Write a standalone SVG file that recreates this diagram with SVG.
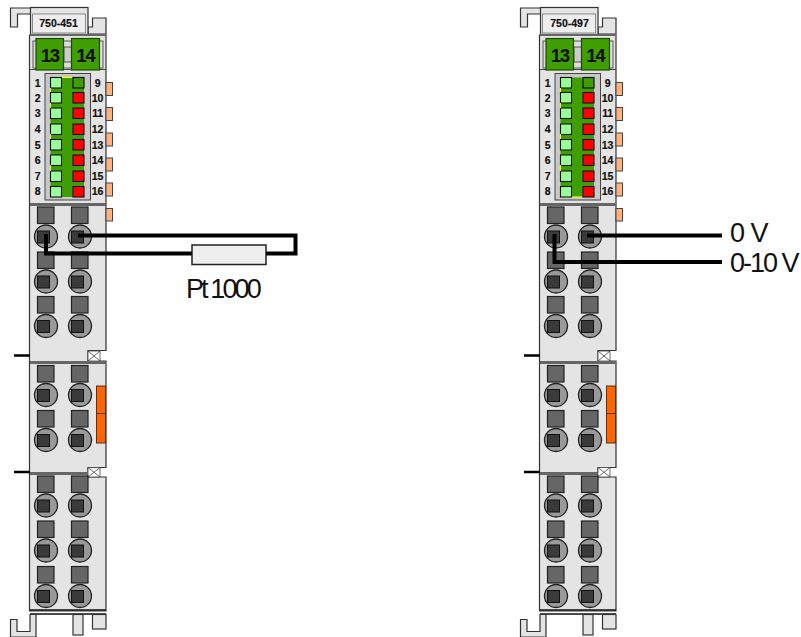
<svg xmlns="http://www.w3.org/2000/svg" width="801" height="637" viewBox="0 0 801 637">
<style>
.b{fill:#e4e4e4;stroke:#333;stroke-width:1.200}
.tab{fill:#ffb27f;stroke:#444;stroke-width:1}
.sq{fill:#666;stroke:#222;stroke-width:1.200}
.ci{fill:#999;stroke:#222;stroke-width:1.300}
.in{fill:#3a3a3a;stroke:#111;stroke-width:1}
.gr{fill:#3f9f00;stroke:#1d4a00;stroke-width:1.200}
.lg{fill:#9f9;stroke:#111;stroke-width:1.100}
.rd{fill:#f00;stroke:#111;stroke-width:1.100}
.y{stroke:#ff0;stroke-width:1;fill:none}
.t{font-family:"Liberation Sans",Arial,sans-serif;font-weight:bold;fill:#111;stroke:#111;stroke-width:.2;text-anchor:middle}
.n{font-size:10.500px;letter-spacing:-.2px}
.k{font-size:18px;letter-spacing:-1px}
.m{font-size:10.500px}
.w{fill:none;stroke:#000;stroke-width:4;stroke-linejoin:miter}
.l{font-family:"Liberation Sans",Arial,sans-serif;font-size:27px;fill:#111}
</style>
<defs>
<g id="term"><rect class="sq" x="37.500" y="0" width="16.500" height="16.500"/><rect class="sq" x="71.500" y="0" width="16.500" height="16.500"/><circle class="ci" cx="46" cy="29.500" r="11.500"/><circle class="ci" cx="80" cy="29.500" r="11.500"/><rect class="in" x="37.500" y="24" width="12" height="12"/><rect class="in" x="71.500" y="24" width="12" height="12"/></g>
<g id="body">
<path class="b" d="M10.500 8H31V14H17.500V27H10.500Z"/>
<path class="b" d="M88 34V27H92.500V18H106V34Z"/>
<rect class="b" x="30.500" y="7.500" width="57.500" height="27"/>
<rect x="32.500" y="14" width="53" height="19" fill="#eee" stroke="#888" stroke-width="1"/>
<path class="b" d="M29.500 35H106V350.500H88V361H106V467.500H88V477H106V611H29.500Z"/>
<rect x="30" y="34" width="76" height="2" fill="#666"/>
<rect x="33" y="41" width="70" height="27" fill="#ddd" stroke="#555"/>
<rect x="64" y="47" width="8" height="15" fill="#ccc" stroke="#555"/>
<path d="M30 69.500H106" stroke="#444" fill="none"/>
<rect class="gr" x="36" y="38.500" width="27.500" height="31.500"/>
<rect class="gr" x="71.500" y="38.500" width="28" height="31.500"/>
<rect x="45" y="73.500" width="45.500" height="126.500" fill="#c8c8c8" stroke="#444"/>
<rect x="50.500" y="77.500" width="33.500" height="119.500" fill="#3f9f00"/>
<g>
<rect class="lg" x="50.500" y="77.500" width="11" height="10.500"/><rect class="lg" x="50.500" y="92.500" width="11" height="10.500"/><rect class="lg" x="50.500" y="108" width="11" height="10.500"/><rect class="lg" x="50.500" y="124" width="11" height="10.500"/><rect class="lg" x="50.500" y="139.500" width="11" height="10.500"/><rect class="lg" x="50.500" y="155" width="11" height="10.500"/><rect class="lg" x="50.500" y="171" width="11" height="10.500"/><rect class="lg" x="50.500" y="186.500" width="11" height="10.500"/>
<rect class="gr" x="73" y="77.500" width="11" height="10.500" style="stroke:#111"/><rect class="rd" x="73" y="92.500" width="11" height="10.500"/><rect class="rd" x="73" y="108" width="11" height="10.500"/><rect class="rd" x="73" y="124" width="11" height="10.500"/><rect class="rd" x="73" y="139.500" width="11" height="10.500"/><rect class="rd" x="73" y="155" width="11" height="10.500"/><rect class="rd" x="73" y="171" width="11" height="10.500"/><rect class="rd" x="73" y="186.500" width="11" height="10.500"/>
</g>
<path class="y" d="M50.500 88V92M50.500 103V108M50.500 134V139M50.500 165V171"/>
<rect class="tab" x="106" y="82.500" width="6.500" height="13"/><rect class="tab" x="106" y="107.500" width="6.500" height="13"/><rect class="tab" x="106" y="133" width="6.500" height="13"/><rect class="tab" x="106" y="158" width="6.500" height="13"/><rect class="tab" x="106" y="183" width="6.500" height="13"/><rect class="tab" x="106" y="208.500" width="6.500" height="12.500"/>
<rect x="30" y="203" width="76" height="3" fill="#666"/>
<use href="#term" y="207"/><use href="#term" y="252"/><use href="#term" y="296.500"/>
<path d="M14 355.500H30M14 472H30" stroke="#000" stroke-width="2.500" fill="none"/>
<path d="M88 351H100V361H88ZM88 351L100 361M100 351L88 361" fill="#fff" stroke="#444" stroke-width=".8"/>
<rect x="30" y="361" width="76" height="3" fill="#666"/>
<use href="#term" y="365.500"/><use href="#term" y="410.500"/>
<rect x="96.500" y="386" width="9" height="27.500" fill="#f60" stroke="#553311"/>
<rect x="96.500" y="413.500" width="9" height="29.500" fill="#f60" stroke="#553311"/>
<path d="M88 467.500H100V477H88ZM88 467.500L100 477M100 467.500L88 477" fill="#fff" stroke="#444" stroke-width=".8"/>
<rect x="30" y="472" width="58" height="3" fill="#666"/>
<use href="#term" y="476"/><use href="#term" y="521"/><use href="#term" y="566.500"/>
<path d="M30 610H106M30 614H106" stroke="#111" stroke-width="1.500" fill="none"/>
<path class="b" d="M10.500 619.500H17V631.500H30V614.500H36V637H10.500Z"/>
<rect class="b" x="73" y="614.500" width="10" height="20.500"/>
<rect class="b" x="92.500" y="614.500" width="13.500" height="14.500"/>
</g>
</defs>
<g id="module-750-451">
<use href="#body"/>
<path class="y" d="M62 77.500H72"/>
<text class="t m" x="58.500" y="27">750-451</text>
<text class="t k" x="50" y="62">13</text><text class="t k" x="85.500" y="62">14</text>
<g class="t n">
<text x="37.500" y="86.500">1</text><text x="37.500" y="101.500">2</text><text x="37.500" y="117">3</text><text x="37.500" y="132.500">4</text><text x="37.500" y="148.500">5</text><text x="37.500" y="164">6</text><text x="37.500" y="179.500">7</text><text x="37.500" y="195">8</text>
<text x="97.500" y="86.500">9</text><text x="97.500" y="101.500">10</text><text x="97.500" y="117">11</text><text x="97.500" y="132.500">12</text><text x="97.500" y="148.500">13</text><text x="97.500" y="164">14</text><text x="97.500" y="179.500">15</text><text x="97.500" y="195">16</text>
</g>
</g>
<g id="module-750-497" transform="translate(510 0)">
<use href="#body"/>
<path class="y" d="M62 197H72"/>
<text class="t m" x="59.500" y="27">750-497</text>
<text class="t k" x="50" y="62">13</text><text class="t k" x="85.500" y="62">14</text>
<g class="t n">
<text x="37.500" y="86.500">1</text><text x="37.500" y="101.500">2</text><text x="37.500" y="117">3</text><text x="37.500" y="132.500">4</text><text x="37.500" y="148.500">5</text><text x="37.500" y="164">6</text><text x="37.500" y="179.500">7</text><text x="37.500" y="195">8</text>
<text x="97.500" y="86.500">9</text><text x="97.500" y="101.500">10</text><text x="97.500" y="117">11</text><text x="97.500" y="132.500">12</text><text x="97.500" y="148.500">13</text><text x="97.500" y="164">14</text><text x="97.500" y="179.500">15</text><text x="97.500" y="195">16</text>
</g>
</g>
<g id="resistor"><rect x="192" y="245" width="74" height="19.500" fill="#eee" stroke="#222" stroke-width="1.500"/>
<text class="l" x="186" y="298" letter-spacing="-2.900">Pt 1000</text></g>
<g id="connectors">
<path class="w" d="M46 234V253.500H192M266 253.500H295.500V235.500H78"/>
<path class="w" d="M587 235.500H722M554.500 234V262H722"/>
</g>
<g id="labels">
<text class="l" x="730" y="242" letter-spacing="-1">0 V</text>
<text class="l" x="730" y="272" letter-spacing="-2">0-10 V</text>
</g>
</svg>
